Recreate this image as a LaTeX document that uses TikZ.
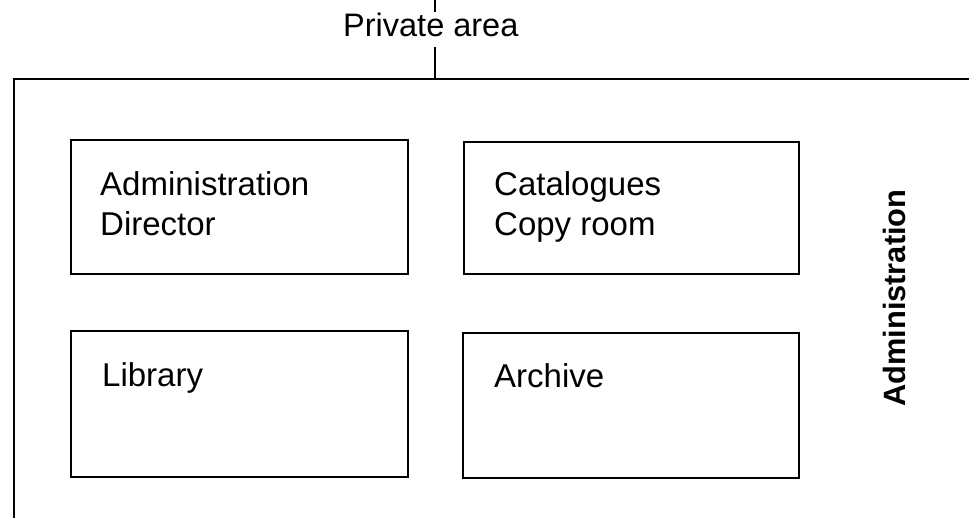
\documentclass[tikz,border=0pt]{standalone}
\usepackage{fontspec}
\setmainfont{Liberation Sans}
\begin{document}
\begin{tikzpicture}[x=1pt,y=-1pt,
  room/.style={draw, line width=2.6pt, rectangle, inner sep=0pt},
  lbl/.style={anchor=base west, inner sep=0pt, font=\fontsize{33}{40}\selectfont},
  wall/.style={line width=2.6pt}]
\useasboundingbox (0,0) rectangle (969,518);
\begin{scope}
\clip (0,0) rectangle (969,518);
% outer area
\coordinate (oR) at (970,79);
\coordinate (oL) at (14,79);
\coordinate (oB) at (14,520);
\draw[wall] (oR) -- (oL) -- (oB);
% rooms
\node[room, minimum width=337pt, minimum height=134pt] (b1) at (239.5,207) {};
\node[room, minimum width=335pt, minimum height=132pt] (b2) at (631.5,208) {};
\node[room, minimum width=337pt, minimum height=146pt] (b3) at (239.5,404) {};
\node[room, minimum width=336pt, minimum height=145pt] (b4) at (631,405.5) {};
% labels
\node[lbl] (t1a) at (100,196) {Administration};
\node[lbl] (t1b) at (100,236) {Director};
\node[lbl] (t2a) at (494,196) {Catalogues};
\node[lbl] (t2b) at (494,236) {Copy room};
\node[lbl] (t3) at (102,387) {Library};
\node[lbl] (t4) at (494,388) {Archive};
% private area
\node[lbl, font=\fontsize{32.5}{38}\selectfont] (pa) at (343,37) {Private area};
\coordinate (p0) at (435,0);
\coordinate (p1) at (435,12);
\coordinate (p2) at (435,47);
\coordinate (p3) at (435,79);
\draw[wall] (p0) -- (p1);
\draw[wall] (p2) -- (p3);
% side label
\node[anchor=base west, inner sep=0pt, rotate=90, font=\fontsize{30.8}{36}\selectfont\bfseries] (adm) at (905,407) {Administration};
\end{scope}
\end{tikzpicture}
\end{document}
